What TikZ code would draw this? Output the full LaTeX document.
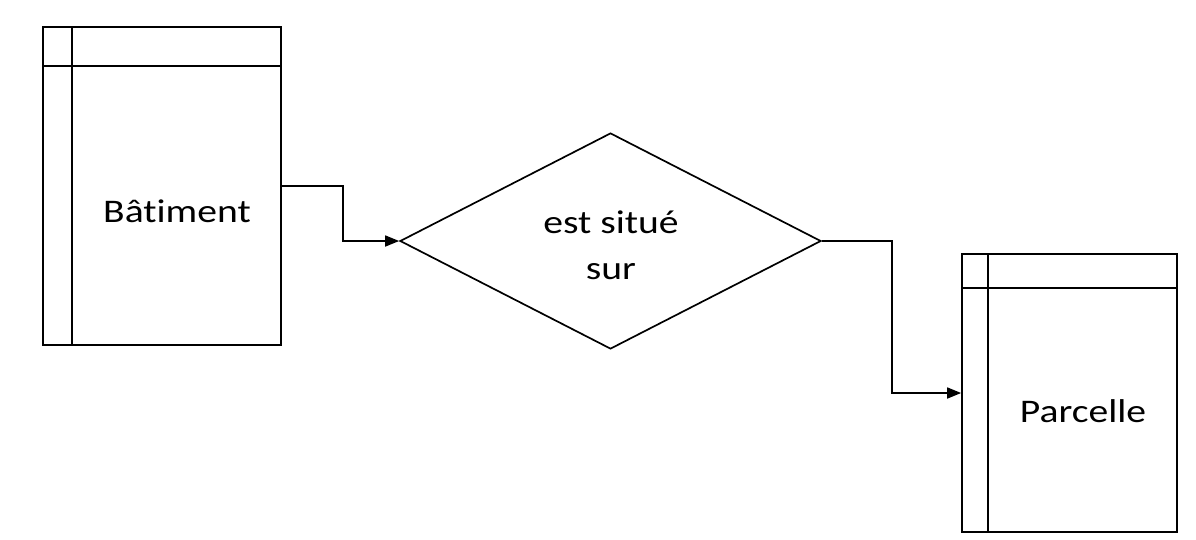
\documentclass[tikz,border=0pt]{standalone}
\usepackage{fontspec}
\setmainfont[Ligatures=NoCommon]{Carlito}
\usetikzlibrary{shapes.geometric,arrows.meta,calc}
\begin{document}
\begin{tikzpicture}[x=1pt,y=-1pt,
  ln/.style={line width=1.7pt,black},
  entity/.style={ln,draw,rectangle,inner sep=0pt},
  relation/.style={ln,draw,diamond,inner sep=0pt},
  lbl/.style={inner sep=0pt,font=\fontsize{33}{46}\selectfont,align=center},
  arr/.style={ln,-{Triangle[length=14pt,width=11pt]}}]
\useasboundingbox (0,0) rectangle (1196,539);
\fill[white] (0,0) rectangle (1196,539);
% Bâtiment
\node[entity,minimum width=238pt,minimum height=318pt] (bat) at (162,186) {};
\draw[ln] ($(bat.north west)+(0,40)$) -- ($(bat.north east)+(0,40)$);
\draw[ln] ($(bat.north west)+(30,0)$) -- ($(bat.south west)+(30,0)$);
\node[lbl] (batl) at (177,211) {\scalebox{1.2}[1]{Bâtiment}};
% Parcelle
\node[entity,minimum width=215pt,minimum height=278pt] (parc) at (1069.5,393) {};
\draw[ln] ($(parc.north west)+(0,35)$) -- ($(parc.north east)+(0,35)$);
\draw[ln] ($(parc.north west)+(27,0)$) -- ($(parc.south west)+(27,0)$);
\node[lbl] (parcl) at (1083,411) {\scalebox{1.2}[1]{Parcelle}};
% relation
\node[relation,minimum width=421pt,minimum height=216pt] (rel) at (610.5,241) {};
\node[lbl] (rell) at (611,245) {\scalebox{1.2}[1]{est situé}\\\scalebox{1.2}[1]{sur}};
% connectors
\draw[arr] (bat.east) -- ++(61,0) |- (rel.west);
\draw[arr] (rel.east) -- ++(70,0) |- (parc.west);
\end{tikzpicture}
\end{document}
